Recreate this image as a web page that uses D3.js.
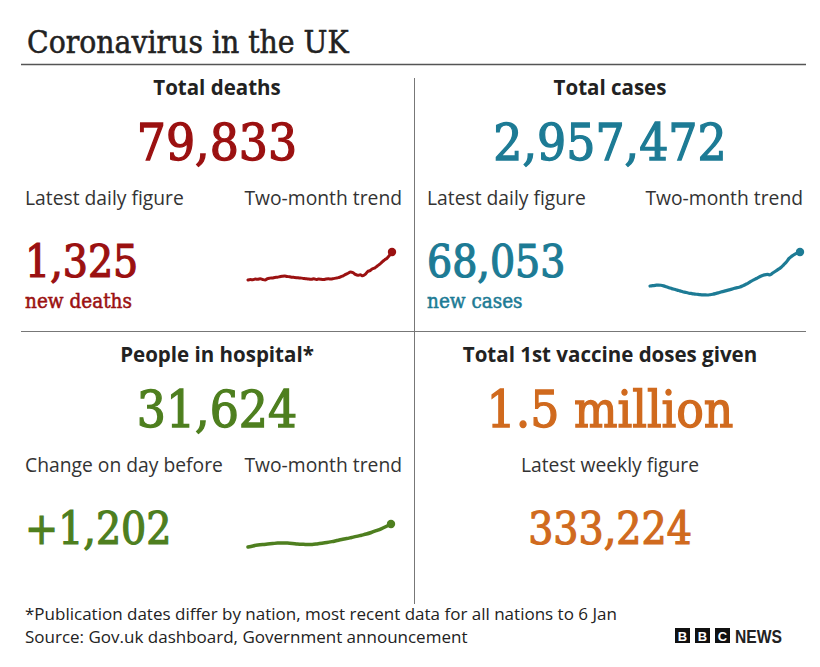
<!DOCTYPE html>
<html>
<head>
<meta charset="utf-8">
<script src="https://cdn.jsdelivr.net/npm/d3@7"></script>
<style>
  body { margin: 0; background: #fff; }
  .serif { font-family: "DejaVu Serif Condensed", "DejaVu Serif", serif; font-stretch: condensed; }
  .sans { font-family: "Open Sans", "Noto Sans", sans-serif; }
</style>
</head>
<body>
<div id="chart"></div>
<script>
// panel texts
const panelTitles = ['Total deaths', 'Total cases', 'People in hospital*', 'Total 1st vaccine doses given'];
const panelTotals = ['79,833', '2,957,472', '31,624', '1.5 million'];
const subLabels = ['Latest daily figure', 'Latest daily figure', 'Change on day before', 'Latest weekly figure'];
const subValues = ['1,325', '68,053', '+1,202', '333,224'];
const subUnits = ['new deaths', 'new cases', '', ''];
const colours = ['#9b1111', '#1d7b95', '#4e7f1f', '#d06a1e'];

// two-month trends
const deathsTrend = [400, 410, 405, 420, 415, 425, 410, 400,
  430, 440, 445, 455, 460, 470, 480, 486,
  475, 470, 460, 455, 450, 445, 440, 430,
  425, 420, 415, 425, 410, 420, 415, 410, 420, 425, 420, 430, 440,
  450, 470, 490, 520, 545, 570, 560, 520,
  500, 510, 490, 520, 580, 600, 640, 660, 700, 740, 790, 830, 870, 930, 1000];
const casesTrend = [22800, 23200, 23600, 23900, 23700,
  23000, 22000, 21000, 20000, 19200, 18300, 17500, 16600, 15900, 15200,
  14700, 14200, 13800, 13500, 13200, 13100, 13000,
  13300, 13800, 14500, 15300, 16300,
  17000, 17800, 18600, 19400, 20300, 21000, 21700,
  23000, 24500, 26000, 27800, 29500, 31000, 32600,
  34000, 35000, 35500, 35000,
  37000, 39000, 41000, 43000, 46000, 49000, 53000,
  55500, 57500, 59000, 60000];
const hospitalTrend = [12300, 13200, 13900, 14400, 14800, 15200, 15600, 15700, 15600, 15300,
  14900, 14600, 14400, 14500, 14900, 15400, 16000, 16800, 17700, 18600,
  19400, 20300, 21200, 22200, 23200, 24500, 26000, 27600, 29500, 31624];

const footnotes = ['*Publication dates differ by nation, most recent data for all nations to 6 Jan',
  'Source: Gov.uk dashboard, Government announcement'];

const width = 820;
const height = 667;

const svg = d3.select('#chart').append('svg')
  .attr('width', width)
  .attr('height', height);

// title + rules
svg.append('text')
  .attr('class', 'serif')
  .attr('x', 27).attr('y', 53)
  .attr('font-size', 31.5)
  .attr('fill', '#222')
  .attr('stroke', '#222').attr('stroke-width', 0.5)
  .text('Coronavirus in the UK');

svg.append('line').attr('x1', 21).attr('x2', 806).attr('y1', 64.5).attr('y2', 64.5)
  .attr('stroke', '#555').attr('stroke-width', 1.5);
svg.append('line').attr('x1', 21).attr('x2', 806).attr('y1', 331.5).attr('y2', 331.5)
  .attr('stroke', '#777').attr('stroke-width', 1);
svg.append('line').attr('x1', 414.5).attr('x2', 414.5).attr('y1', 78).attr('y2', 604)
  .attr('stroke', '#777').attr('stroke-width', 1);

// panel geometry
const cols = [{cx: 217, left: 25, right: 402}, {cx: 610, left: 427, right: 803}];
const rows = [0, 267];

panelTitles.forEach((title, i) => {
  const col = cols[i % 2];
  const dy = rows[Math.floor(i / 2)];
  const g = svg.append('g').attr('transform', 'translate(0,' + dy + ')');
  const hasTrend = i < 3;

  g.append('text')
    .attr('class', 'sans')
    .attr('x', col.cx).attr('y', 95)
    .attr('text-anchor', 'middle')
    .attr('font-size', 20.5).attr('font-weight', 700)
    .attr('fill', '#222')
    .text(title);

  g.append('text')
    .attr('class', 'serif')
    .attr('x', col.cx).attr('y', 160)
    .attr('text-anchor', 'middle')
    .attr('font-size', 51)
    .attr('fill', colours[i])
    .attr('stroke', colours[i]).attr('stroke-width', 1.3)
    .text(panelTotals[i]);

  g.append('text')
    .attr('class', 'sans')
    .attr('x', hasTrend ? col.left : col.cx).attr('y', 205)
    .attr('text-anchor', hasTrend ? 'start' : 'middle')
    .attr('font-size', 19.3)
    .attr('fill', '#333')
    .text(subLabels[i]);

  g.append('text')
    .attr('class', 'serif')
    .attr('x', hasTrend ? col.left : col.cx).attr('y', 277)
    .attr('text-anchor', hasTrend ? 'start' : 'middle')
    .attr('font-size', 44)
    .attr('fill', colours[i])
    .attr('stroke', colours[i]).attr('stroke-width', 1.2)
    .text(subValues[i]);

  if (subUnits[i]) {
    g.append('text')
      .attr('class', 'serif')
      .attr('x', col.left).attr('y', 308)
      .attr('font-size', 20.5)
      .attr('fill', colours[i])
      .attr('stroke', colours[i]).attr('stroke-width', 0.5)
      .text(subUnits[i]);
  }

  if (hasTrend) {
    g.append('text')
      .attr('class', 'sans')
      .attr('x', col.right).attr('y', 205)
      .attr('text-anchor', 'end')
      .attr('font-size', 19.3)
      .attr('fill', '#333')
      .text('Two-month trend');
  }
});

// sparklines
function sparkline (values, xRange, yRange, colour, strokeWidth) {
  const x = d3.scaleLinear().domain([0, values.length - 1]).range(xRange);
  const y = d3.scaleLinear().domain(d3.extent(values)).range(yRange);
  svg.append('path')
    .datum(values)
    .attr('fill', 'none')
    .attr('stroke', colour)
    .attr('stroke-width', strokeWidth)
    .attr('stroke-linejoin', 'round')
    .attr('stroke-linecap', 'round')
    .attr('d', d3.line()
      .x((d, i) => x(i))
      .y(d => y(d))
      .curve(d3.curveMonotoneX));
  const last = values.length - 1;
  svg.append('circle')
    .attr('cx', x(last)).attr('cy', y(values[last]))
    .attr('r', 4.2)
    .attr('fill', colour);
}

sparkline(deathsTrend, [248, 392], [280, 252], colours[0], 3);
sparkline(casesTrend, [650, 800], [295, 252], colours[1], 3.2);
sparkline(hospitalTrend, [248, 391], [547, 524], colours[2], 3.5);

// footnotes
svg.selectAll('.foot')
  .data(footnotes)
  .join('text')
  .attr('class', 'sans foot')
  .attr('x', 25)
  .attr('y', (d, i) => 620 + i * 23)
  .attr('font-size', 17)
  .attr('fill', '#222')
  .text(d => d);

// BBC NEWS logo
const logo = svg.append('g').attr('transform', 'translate(675,628)');
['B', 'B', 'C'].forEach((letter, i) => {
  logo.append('rect')
    .attr('x', i * 20).attr('y', 0)
    .attr('width', 15).attr('height', 15)
    .attr('fill', '#111');
  logo.append('text')
    .attr('x', i * 20 + 7.5).attr('y', 12.5)
    .attr('text-anchor', 'middle')
    .attr('font-family', 'Liberation Sans, Arial, sans-serif')
    .attr('font-weight', 700)
    .attr('font-size', 13)
    .attr('fill', '#fff')
    .text(letter);
});
logo.append('text')
  .attr('x', 60).attr('y', 14.5)
  .attr('font-family', '"Liberation Sans", sans-serif')
  .attr('font-weight', 700)
  .attr('font-size', 19)
  .attr('textLength', 47)
  .attr('lengthAdjust', 'spacingAndGlyphs')
  .attr('fill', '#222')
  .text('NEWS');
</script>
</body>
</html>
